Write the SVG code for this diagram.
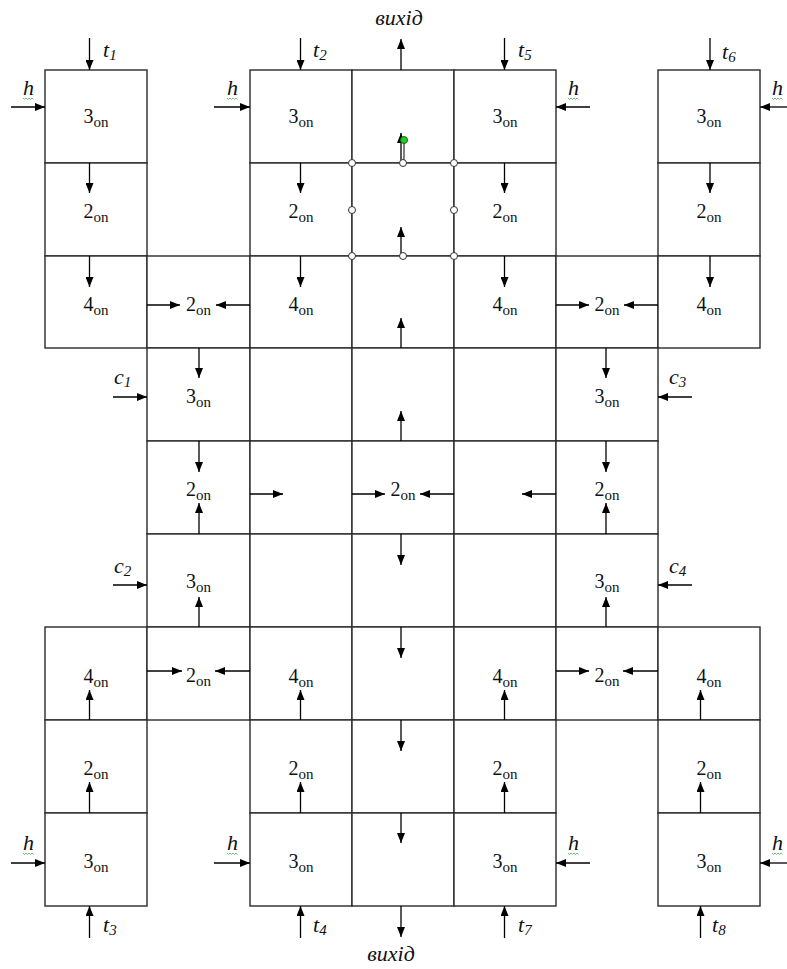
<svg xmlns="http://www.w3.org/2000/svg" width="787" height="969" viewBox="0 0 787 969">
<style>
.cell{fill:#fff;stroke:#2a2a2a;stroke-width:1.4}
.lbl{font-family:"Liberation Serif","Times New Roman",serif;font-size:20px;fill:#111;text-anchor:middle}
.sub{font-size:15px}
.it{font-family:"Liberation Serif","Times New Roman",serif;font-size:22px;font-style:italic;fill:#111}
.isub{font-size:15px}
.ar{stroke:#000;stroke-width:1.3;fill:none;marker-end:url(#ah)}
.hd{fill:#fff;stroke:#333;stroke-width:1}
.wv{fill:none;stroke:#4caf50;stroke-width:0.8}
</style>
<defs>
<marker id="ah" markerUnits="userSpaceOnUse" markerWidth="10" markerHeight="8" refX="10" refY="4" orient="auto">
<path d="M0,0 L10,4 L0,8 z" fill="#000"/>
</marker>
</defs>
<rect width="787" height="969" fill="#fff"/>

<!-- row 0 -->
<g id="r0c0"><rect class="cell" x="45" y="70" width="102" height="93"/><text class="lbl" x="96" y="123">3<tspan class="sub" dy="4">on</tspan></text></g>
<g id="r0c2"><rect class="cell" x="250" y="70" width="102" height="93"/><text class="lbl" x="301" y="123">3<tspan class="sub" dy="4">on</tspan></text></g>
<g id="r0c3"><rect class="cell" x="352" y="70" width="102" height="93"/></g>
<g id="r0c4"><rect class="cell" x="454" y="70" width="102" height="93"/><text class="lbl" x="505" y="123">3<tspan class="sub" dy="4">on</tspan></text></g>
<g id="r0c6"><rect class="cell" x="658" y="70" width="102" height="93"/><text class="lbl" x="709" y="123">3<tspan class="sub" dy="4">on</tspan></text></g>
<!-- row 1 -->
<g id="r1c0"><rect class="cell" x="45" y="163" width="102" height="93"/><text class="lbl" x="96" y="218">2<tspan class="sub" dy="4">on</tspan></text></g>
<g id="r1c2"><rect class="cell" x="250" y="163" width="102" height="93"/><text class="lbl" x="301" y="218">2<tspan class="sub" dy="4">on</tspan></text></g>
<g id="r1c3"><rect class="cell" x="352" y="163" width="102" height="93"/></g>
<g id="r1c4"><rect class="cell" x="454" y="163" width="102" height="93"/><text class="lbl" x="505" y="218">2<tspan class="sub" dy="4">on</tspan></text></g>
<g id="r1c6"><rect class="cell" x="658" y="163" width="102" height="93"/><text class="lbl" x="709" y="218">2<tspan class="sub" dy="4">on</tspan></text></g>
<!-- row 2 -->
<g id="r2c0"><rect class="cell" x="45" y="256" width="102" height="92"/><text class="lbl" x="96" y="311">4<tspan class="sub" dy="4">on</tspan></text></g>
<g id="r2c1"><rect class="cell" x="147" y="256" width="103" height="92"/><text class="lbl" x="198.5" y="311">2<tspan class="sub" dy="4">on</tspan></text></g>
<g id="r2c2"><rect class="cell" x="250" y="256" width="102" height="92"/><text class="lbl" x="301" y="311">4<tspan class="sub" dy="4">on</tspan></text></g>
<g id="r2c3"><rect class="cell" x="352" y="256" width="102" height="92"/></g>
<g id="r2c4"><rect class="cell" x="454" y="256" width="102" height="92"/><text class="lbl" x="505" y="311">4<tspan class="sub" dy="4">on</tspan></text></g>
<g id="r2c5"><rect class="cell" x="556" y="256" width="102" height="92"/><text class="lbl" x="607" y="311">2<tspan class="sub" dy="4">on</tspan></text></g>
<g id="r2c6"><rect class="cell" x="658" y="256" width="102" height="92"/><text class="lbl" x="709" y="311">4<tspan class="sub" dy="4">on</tspan></text></g>
<!-- row 3 -->
<g id="r3c1"><rect class="cell" x="147" y="348" width="103" height="93"/><text class="lbl" x="198.5" y="403">3<tspan class="sub" dy="4">on</tspan></text></g>
<g id="r3c2"><rect class="cell" x="250" y="348" width="102" height="93"/></g>
<g id="r3c3"><rect class="cell" x="352" y="348" width="102" height="93"/></g>
<g id="r3c4"><rect class="cell" x="454" y="348" width="102" height="93"/></g>
<g id="r3c5"><rect class="cell" x="556" y="348" width="102" height="93"/><text class="lbl" x="607" y="403">3<tspan class="sub" dy="4">on</tspan></text></g>
<!-- row 4 -->
<g id="r4c1"><rect class="cell" x="147" y="441" width="103" height="93"/><text class="lbl" x="198.5" y="496">2<tspan class="sub" dy="4">on</tspan></text></g>
<g id="r4c2"><rect class="cell" x="250" y="441" width="102" height="93"/></g>
<g id="r4c3"><rect class="cell" x="352" y="441" width="102" height="93"/><text class="lbl" x="403" y="496">2<tspan class="sub" dy="4">on</tspan></text></g>
<g id="r4c4"><rect class="cell" x="454" y="441" width="102" height="93"/></g>
<g id="r4c5"><rect class="cell" x="556" y="441" width="102" height="93"/><text class="lbl" x="607" y="496">2<tspan class="sub" dy="4">on</tspan></text></g>
<!-- row 5 -->
<g id="r5c1"><rect class="cell" x="147" y="534" width="103" height="93"/><text class="lbl" x="198.5" y="588">3<tspan class="sub" dy="4">on</tspan></text></g>
<g id="r5c2"><rect class="cell" x="250" y="534" width="102" height="93"/></g>
<g id="r5c3"><rect class="cell" x="352" y="534" width="102" height="93"/></g>
<g id="r5c4"><rect class="cell" x="454" y="534" width="102" height="93"/></g>
<g id="r5c5"><rect class="cell" x="556" y="534" width="102" height="93"/><text class="lbl" x="607" y="588">3<tspan class="sub" dy="4">on</tspan></text></g>
<!-- row 6 -->
<g id="r6c0"><rect class="cell" x="45" y="627" width="102" height="93"/><text class="lbl" x="96" y="683">4<tspan class="sub" dy="4">on</tspan></text></g>
<g id="r6c1"><rect class="cell" x="147" y="627" width="103" height="93"/><text class="lbl" x="198.5" y="682">2<tspan class="sub" dy="4">on</tspan></text></g>
<g id="r6c2"><rect class="cell" x="250" y="627" width="102" height="93"/><text class="lbl" x="301" y="683">4<tspan class="sub" dy="4">on</tspan></text></g>
<g id="r6c3"><rect class="cell" x="352" y="627" width="102" height="93"/></g>
<g id="r6c4"><rect class="cell" x="454" y="627" width="102" height="93"/><text class="lbl" x="505" y="683">4<tspan class="sub" dy="4">on</tspan></text></g>
<g id="r6c5"><rect class="cell" x="556" y="627" width="102" height="93"/><text class="lbl" x="607" y="682">2<tspan class="sub" dy="4">on</tspan></text></g>
<g id="r6c6"><rect class="cell" x="658" y="627" width="102" height="93"/><text class="lbl" x="709" y="683">4<tspan class="sub" dy="4">on</tspan></text></g>
<!-- row 7 -->
<g id="r7c0"><rect class="cell" x="45" y="720" width="102" height="93"/><text class="lbl" x="96" y="775">2<tspan class="sub" dy="4">on</tspan></text></g>
<g id="r7c2"><rect class="cell" x="250" y="720" width="102" height="93"/><text class="lbl" x="301" y="775">2<tspan class="sub" dy="4">on</tspan></text></g>
<g id="r7c3"><rect class="cell" x="352" y="720" width="102" height="93"/></g>
<g id="r7c4"><rect class="cell" x="454" y="720" width="102" height="93"/><text class="lbl" x="505" y="775">2<tspan class="sub" dy="4">on</tspan></text></g>
<g id="r7c6"><rect class="cell" x="658" y="720" width="102" height="93"/><text class="lbl" x="709" y="775">2<tspan class="sub" dy="4">on</tspan></text></g>
<!-- row 8 -->
<g id="r8c0"><rect class="cell" x="45" y="813" width="102" height="93"/><text class="lbl" x="96" y="868">3<tspan class="sub" dy="4">on</tspan></text></g>
<g id="r8c2"><rect class="cell" x="250" y="813" width="102" height="93"/><text class="lbl" x="301" y="868">3<tspan class="sub" dy="4">on</tspan></text></g>
<g id="r8c3"><rect class="cell" x="352" y="813" width="102" height="93"/></g>
<g id="r8c4"><rect class="cell" x="454" y="813" width="102" height="93"/><text class="lbl" x="505" y="868">3<tspan class="sub" dy="4">on</tspan></text></g>
<g id="r8c6"><rect class="cell" x="658" y="813" width="102" height="93"/><text class="lbl" x="709" y="868">3<tspan class="sub" dy="4">on</tspan></text></g>

<g id="connectors">
<line class="ar" x1="89.5" y1="38" x2="89.5" y2="70"/>
<line class="ar" x1="300.5" y1="38" x2="300.5" y2="70"/>
<line class="ar" x1="504.5" y1="38" x2="504.5" y2="70"/>
<line class="ar" x1="710" y1="38" x2="710" y2="70"/>
<line class="ar" x1="401" y1="70" x2="401" y2="39"/>
<line class="ar" x1="11" y1="107" x2="45" y2="107"/>
<line class="ar" x1="214" y1="107" x2="250" y2="107"/>
<line class="ar" x1="590" y1="107" x2="556" y2="107"/>
<line class="ar" x1="787" y1="107" x2="760" y2="107"/>
<line class="ar" x1="401" y1="163" x2="401" y2="133"/>
<line x1="404" y1="163" x2="404" y2="141" stroke="#000" stroke-width="1"/>
<line class="ar" x1="89.5" y1="163" x2="89.5" y2="193"/>
<line class="ar" x1="300.5" y1="163" x2="300.5" y2="193"/>
<line class="ar" x1="504.5" y1="163" x2="504.5" y2="193"/>
<line class="ar" x1="710" y1="163" x2="710" y2="193"/>
<line class="ar" x1="89.5" y1="256" x2="89.5" y2="287"/>
<line class="ar" x1="300.5" y1="256" x2="300.5" y2="287"/>
<line class="ar" x1="504.5" y1="256" x2="504.5" y2="287"/>
<line class="ar" x1="710" y1="256" x2="710" y2="287"/>
<line class="ar" x1="401" y1="256" x2="401" y2="227"/>
<line class="ar" x1="401" y1="348" x2="401" y2="318"/>
<line class="ar" x1="401" y1="441" x2="401" y2="411"/>
<line class="ar" x1="147" y1="305" x2="180" y2="305"/>
<line class="ar" x1="250" y1="305" x2="216" y2="305"/>
<line class="ar" x1="556" y1="305" x2="589" y2="305"/>
<line class="ar" x1="658" y1="305" x2="624" y2="305"/>
<line class="ar" x1="113" y1="397" x2="147" y2="397"/>
<line class="ar" x1="692" y1="397" x2="658" y2="397"/>
<line class="ar" x1="113" y1="585" x2="147" y2="585"/>
<line class="ar" x1="692" y1="585" x2="658" y2="585"/>
<line class="ar" x1="199" y1="348" x2="199" y2="378"/>
<line class="ar" x1="199" y1="441" x2="199" y2="472"/>
<line class="ar" x1="199" y1="534" x2="199" y2="503"/>
<line class="ar" x1="606" y1="348" x2="606" y2="378"/>
<line class="ar" x1="606" y1="441" x2="606" y2="472"/>
<line class="ar" x1="606" y1="534" x2="606" y2="503"/>
<line class="ar" x1="199" y1="627" x2="199" y2="597"/>
<line class="ar" x1="606" y1="627" x2="606" y2="597"/>
<line class="ar" x1="250" y1="494" x2="283" y2="494"/>
<line class="ar" x1="352" y1="494" x2="385" y2="494"/>
<line class="ar" x1="454" y1="494" x2="420" y2="494"/>
<line class="ar" x1="556" y1="494" x2="522" y2="494"/>
<line class="ar" x1="401" y1="534" x2="401" y2="565"/>
<line class="ar" x1="401" y1="627" x2="401" y2="658"/>
<line class="ar" x1="401" y1="720" x2="401" y2="751"/>
<line class="ar" x1="401" y1="813" x2="401" y2="843"/>
<line class="ar" x1="401" y1="906" x2="401" y2="937"/>
<line class="ar" x1="147" y1="671" x2="182" y2="671"/>
<line class="ar" x1="250" y1="671" x2="215" y2="671"/>
<line class="ar" x1="556" y1="671" x2="589" y2="671"/>
<line class="ar" x1="658" y1="671" x2="623" y2="671"/>
<line class="ar" x1="89.5" y1="720" x2="89.5" y2="690"/>
<line class="ar" x1="300.5" y1="720" x2="300.5" y2="690"/>
<line class="ar" x1="504.5" y1="720" x2="504.5" y2="690"/>
<line class="ar" x1="700.5" y1="720" x2="700.5" y2="690"/>
<line class="ar" x1="89.5" y1="813" x2="89.5" y2="782"/>
<line class="ar" x1="300.5" y1="813" x2="300.5" y2="782"/>
<line class="ar" x1="504.5" y1="813" x2="504.5" y2="782"/>
<line class="ar" x1="700.5" y1="813" x2="700.5" y2="782"/>
<line class="ar" x1="11" y1="863" x2="45" y2="863"/>
<line class="ar" x1="214" y1="863" x2="250" y2="863"/>
<line class="ar" x1="590" y1="863" x2="556" y2="863"/>
<line class="ar" x1="787" y1="863" x2="760" y2="863"/>
<line class="ar" x1="89.5" y1="938" x2="89.5" y2="906"/>
<line class="ar" x1="300.5" y1="938" x2="300.5" y2="906"/>
<line class="ar" x1="504.5" y1="938" x2="504.5" y2="906"/>
<line class="ar" x1="700.5" y1="938" x2="700.5" y2="906"/>
</g>

<g id="handles">
<circle class="hd" cx="352" cy="163" r="3.5"/>
<circle class="hd" cx="403" cy="163" r="3.5"/>
<circle class="hd" cx="454" cy="163" r="3.5"/>
<circle class="hd" cx="352" cy="210" r="3.5"/>
<circle class="hd" cx="454" cy="210" r="3.5"/>
<circle class="hd" cx="352" cy="256" r="3.5"/>
<circle class="hd" cx="403" cy="256" r="3.5"/>
<circle class="hd" cx="454" cy="256" r="3.5"/>
<circle cx="404" cy="140" r="3.5" fill="#22cc22" stroke="#136b13" stroke-width="1"/>
</g>

<g id="labels">
<text class="it" x="103" y="57">t<tspan class="isub" dy="3">1</tspan></text>
<text class="it" x="313" y="57">t<tspan class="isub" dy="3">2</tspan></text>
<text class="it" x="518" y="57">t<tspan class="isub" dy="3">5</tspan></text>
<text class="it" x="722" y="59">t<tspan class="isub" dy="3">6</tspan></text>
<text class="it" x="103" y="932">t<tspan class="isub" dy="3">3</tspan></text>
<text class="it" x="313" y="932">t<tspan class="isub" dy="3">4</tspan></text>
<text class="it" x="518" y="932">t<tspan class="isub" dy="3">7</tspan></text>
<text class="it" x="712" y="932">t<tspan class="isub" dy="3">8</tspan></text>
<text class="it" x="114" y="384">c<tspan class="isub" dy="3">1</tspan></text>
<text class="it" x="669" y="384">c<tspan class="isub" dy="3">3</tspan></text>
<text class="it" x="114" y="573">c<tspan class="isub" dy="3">2</tspan></text>
<text class="it" x="669" y="573">c<tspan class="isub" dy="3">4</tspan></text>
<text class="it" x="23" y="95">h</text>
<text class="it" x="227" y="95">h</text>
<text class="it" x="568" y="95">h</text>
<text class="it" x="772" y="95">h</text>
<text class="it" x="23" y="850">h</text>
<text class="it" x="227" y="850">h</text>
<text class="it" x="568" y="850">h</text>
<text class="it" x="772" y="850">h</text>
<text class="it" x="399" y="25" text-anchor="middle">вихід</text>
<text class="it" x="391" y="961" text-anchor="middle">вихід</text>
</g>
<g id="underlines">
<path class="wv" d="M23,98 l1.5,1.5 l1.5,-1.5 l1.5,1.5 l1.5,-1.5 l1.5,1.5 l1.5,-1.5 l1.5,1.5"/>
<path class="wv" d="M227,98 l1.5,1.5 l1.5,-1.5 l1.5,1.5 l1.5,-1.5 l1.5,1.5 l1.5,-1.5 l1.5,1.5"/>
<path class="wv" d="M568,98 l1.5,1.5 l1.5,-1.5 l1.5,1.5 l1.5,-1.5 l1.5,1.5 l1.5,-1.5 l1.5,1.5"/>
<path class="wv" d="M772,98 l1.5,1.5 l1.5,-1.5 l1.5,1.5 l1.5,-1.5 l1.5,1.5 l1.5,-1.5 l1.5,1.5"/>
<path class="wv" d="M23,853 l1.5,1.5 l1.5,-1.5 l1.5,1.5 l1.5,-1.5 l1.5,1.5 l1.5,-1.5 l1.5,1.5"/>
<path class="wv" d="M227,853 l1.5,1.5 l1.5,-1.5 l1.5,1.5 l1.5,-1.5 l1.5,1.5 l1.5,-1.5 l1.5,1.5"/>
<path class="wv" d="M568,853 l1.5,1.5 l1.5,-1.5 l1.5,1.5 l1.5,-1.5 l1.5,1.5 l1.5,-1.5 l1.5,1.5"/>
<path class="wv" d="M772,853 l1.5,1.5 l1.5,-1.5 l1.5,1.5 l1.5,-1.5 l1.5,1.5 l1.5,-1.5 l1.5,1.5"/>
</g>
</svg>
